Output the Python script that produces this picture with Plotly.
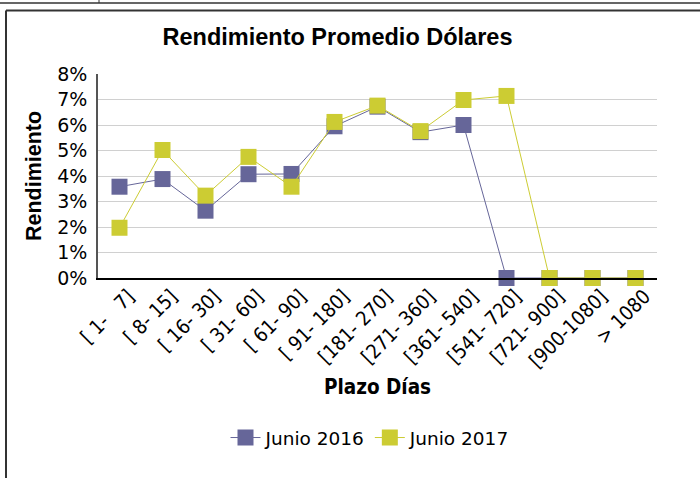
import plotly.graph_objects as go

NB = "\u00a0"
categories = [
    "[" + NB + "1-" + NB*3 + "7]",
    "[" + NB + "8-" + NB + "15]",
    "[" + NB + "16-" + NB + "30]",
    "[" + NB + "31-" + NB + "60]",
    "[" + NB + "61-" + NB + "90]",
    "[" + NB + "91-" + NB + "180]",
    "[181-" + NB + "270]",
    "[271-" + NB + "360]",
    "[361-" + NB + "540]",
    "[541-" + NB + "720]",
    "[721-" + NB + "900]",
    "[900-1080]",
    ">" + NB + "1080",
]
junio_2016 = [3.58, 3.88, 2.64, 4.07, 4.08, 5.95, 6.72, 5.72, 6.0, 0.0, 0.0, 0.0, 0.0]
junio_2017 = [1.97, 5.02, 3.23, 4.75, 3.58, 6.12, 6.76, 5.76, 6.98, 7.14, 0.0, 0.0, 0.0]
y_ticks = [0, 1, 2, 3, 4, 5, 6, 7, 8]
y_tick_labels = [f"{v}%" for v in y_ticks]

W, H = 700, 478
L, R, T, B = 98, 43, 74, 200
pw, ph = W - L - R, H - T - B

def px(x):
    return (x - L) / pw

def py(y):
    return (H - B - y) / ph

fig = go.Figure()
fig.add_trace(go.Scatter(
    x=categories, y=junio_2016, name="Junio 2016", mode="lines+markers", cliponaxis=False,
    line=dict(color="#666699", width=1),
    marker=dict(symbol="square", size=16, color="#666699"),
))
fig.add_trace(go.Scatter(
    x=categories, y=junio_2017, name="Junio 2017", mode="lines+markers", cliponaxis=False,
    line=dict(color="#CCCC33", width=1),
    marker=dict(symbol="square", size=16, color="#CCCC33"),
))

fig.update_layout(
    width=W, height=H,
    margin=dict(l=L, r=R, t=T, b=B, autoexpand=False),
    paper_bgcolor="white", plot_bgcolor="white",
    showlegend=True,
    legend=dict(orientation="h", x=px(370), xanchor="center", y=py(438), yanchor="middle",
                font=dict(family="DejaVu Sans", size=18.5, color="black"),
                itemwidth=30, tracegroupgap=0),
    title=dict(text="<b>Rendimiento Promedio Dólares</b>", x=337.5 / W, xanchor="center",
               y=1 - 37 / H, yanchor="middle", automargin=False,
               font=dict(family="Liberation Sans", size=23.5, color="black")),
    xaxis=dict(
        type="category", tickangle=-45, showgrid=False, automargin=False,
        showline=True, linecolor="black", linewidth=1.5,
        tickfont=dict(family="DejaVu Sans Condensed, DejaVu Sans", size=20, color="black"),
        ticks="", range=[-0.5, len(categories) - 0.5],
        ticklabelshift=9, ticklabelstandoff=-3,
        title=dict(text="<b>Plazo Días</b>",
                   font=dict(family="DejaVu Sans Condensed, DejaVu Sans", size=20.5, color="black"),
                   standoff=8),
    ),
    yaxis=dict(
        range=[0, 8], tickvals=y_ticks, ticktext=y_tick_labels, automargin=False,
        showgrid=True, gridcolor="#D0D0D0", gridwidth=1,
        showline=True, linecolor="#555555", linewidth=1.5, zeroline=False,
        tickfont=dict(family="DejaVu Sans", size=19, color="black"),
        ticks="", ticklen=0, ticklabelstandoff=5,
        title=dict(text="<b>Rendimiento</b>", font=dict(family="Liberation Sans", size=21.5, color="black"),
                   standoff=10),
    ),
)

# decorative frame lines
fig.add_shape(type="line", xref="paper", yref="paper", x0=px(0), x1=px(700), y0=py(3), y1=py(3),
              line=dict(color="#333333", width=1.5))
fig.add_shape(type="line", xref="paper", yref="paper", x0=px(99), x1=px(99), y0=py(0), y1=py(3),
              line=dict(color="#333333", width=1))
fig.add_shape(type="line", xref="paper", yref="paper", x0=px(6), x1=px(700), y0=py(10.5), y1=py(10.5),
              line=dict(color="#333333", width=2))
fig.add_shape(type="line", xref="paper", yref="paper", x0=px(6), x1=px(6), y0=py(10.5), y1=py(478),
              line=dict(color="#333333", width=2))

fig.write_html("out.html", config={"displayModeBar": False},
               post_script="document.body.style.margin='0';document.body.style.overflow='hidden';")
